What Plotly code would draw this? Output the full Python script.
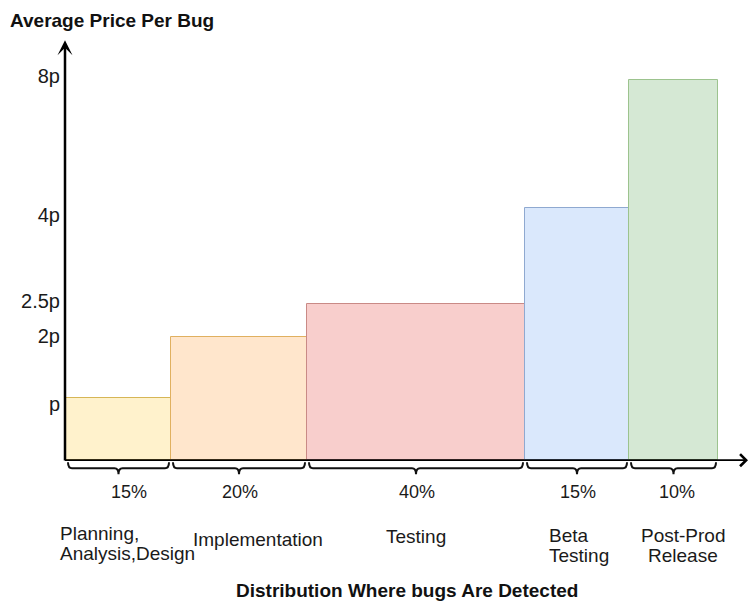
import plotly.graph_objects as go

# ---------------- data ----------------
phases = ["Planning,<br>Analysis,Design", "Implementation", "Testing", "Beta<br>Testing", "Post-Prod<br>Release"]
share_labels = ["15%", "20%", "40%", "15%", "10%"]
bar_widths = [105, 136, 218, 104, 89]          # drawn widths (diagram units)
bar_heights = [1.0, 1.98, 2.52, 4.06, 6.13]    # drawn heights (units of p, as drawn)
price_tick_pos = [0.9, 2.0, 2.56, 3.95, 6.19]
price_tick_text = ["p", "2p", "2.5p", "4p", "8p"]
fill_colors = ["#fff2cc", "#ffe6cc", "#f8cecc", "#dae8fc", "#d5e8d4"]
line_colors = ["#d6b656", "#e0b060", "#c98a86", "#8fa9d0", "#9cc38e"]
y_title = "Average Price Per Bug"
x_title = "Distribution Where bugs Are Detected"

# ---------------- geometry ----------------
L, T, W, H = 65, 40, 684, 445
PX_PER_P = 62.0
y_lo = -0.4
y_hi = y_lo + H / PX_PER_P

def pxx(xp):
    return (xp - L) / W

def pxy(yp):
    return (T + H - yp) / H

lefts = []
acc = 1
for w in bar_widths:
    lefts.append(acc)
    acc += w
centers = [l + w / 2 for l, w in zip(lefts, bar_widths)]

FONT = "Liberation Sans, Arial, sans-serif"

fig = go.Figure()
fig.add_trace(go.Bar(
    x=centers, y=bar_heights, width=bar_widths,
    marker=dict(color=fill_colors, line=dict(color=line_colors, width=1)),
    hoverinfo="skip", showlegend=False,
))

d = 1.0 / PX_PER_P

def brace(x0, x1):
    xc = (x0 + x1) / 2
    y1, y2, y3 = -2 * d, -8 * d, -14 * d
    r = 4
    return (f"M {x0},{y1} Q {x0},{y2} {x0 + r},{y2} L {xc - r},{y2} "
            f"Q {xc},{y2} {xc},{y3} Q {xc},{y2} {xc + r},{y2} "
            f"L {x1 - r},{y2} Q {x1},{y2} {x1},{y1}")

shapes = []
for l, w in zip(lefts, bar_widths):
    shapes.append(dict(type="path", xref="x", yref="y", path=brace(l + 2, l + w - 2),
                       line=dict(color="#111111", width=2), layer="above"))

annotations = []
# axes arrows
annotations.append(dict(x=0, y=(460 - 40) / PX_PER_P, ax=0, ay=-0.03, xref="x", yref="y",
                        axref="x", ayref="y", showarrow=True, arrowhead=3, arrowsize=1.0,
                        arrowwidth=2.5, arrowcolor="#000000", text=""))
annotations.append(dict(x=683, y=0, ax=-1.5, ay=0, xref="x", yref="y",
                        axref="x", ayref="y", showarrow=True, arrowhead=4, arrowsize=1.3,
                        arrowwidth=1.8, arrowcolor="#000000", text=""))

# percentage labels
pct_shift = [10, 1, 1, 1, 3]
for c, s, sh in zip(centers, share_labels, pct_shift):
    annotations.append(dict(x=c, y=pxy(492), xref="x", yref="paper", text=s, showarrow=False,
                            xshift=sh, font=dict(family=FONT, size=18, color="#1a1a1a"),
                            xanchor="center", yanchor="middle"))

# phase labels (each line placed separately for tight line spacing)
phase_pos = [(58, "left", 543), (258, "center", 539), (416, "center", 536),
             (547, "left", 545), (683, "center", 545)]
LINE_GAP = 20
for name, (xp, anc, yp) in zip(phases, phase_pos):
    lines = name.split("<br>")
    n = len(lines)
    for i, ln in enumerate(lines):
        yl = yp + (i - (n - 1) / 2) * LINE_GAP
        annotations.append(dict(x=pxx(xp), y=pxy(yl), xref="paper", yref="paper", text=ln,
                                showarrow=False, xanchor=anc, yanchor="middle", align=anc,
                                font=dict(family=FONT, size=19, color="#1a1a1a")))

# titles
annotations.append(dict(x=pxx(8), y=pxy(21), xref="paper", yref="paper", text="<b>" + y_title + "</b>",
                        showarrow=False, xanchor="left", yanchor="middle",
                        font=dict(family=FONT, size=19, color="#111111")))
annotations.append(dict(x=pxx(407), y=pxy(590), xref="paper", yref="paper", text="<b>" + x_title + "</b>",
                        showarrow=False, xanchor="center", yanchor="middle",
                        font=dict(family=FONT, size=19, color="#111111")))

fig.update_layout(
    width=749, height=601, autosize=False,
    margin=dict(l=L, r=749 - L - W, t=T, b=601 - T - H, pad=0),
    paper_bgcolor="white", plot_bgcolor="white",
    bargap=0,
    xaxis=dict(range=[0, W], showgrid=False, zeroline=False, showline=False,
               showticklabels=False, ticks="", fixedrange=True),
    yaxis=dict(range=[y_lo, y_hi], showgrid=False, zeroline=False, showline=False,
               tickvals=price_tick_pos, ticktext=price_tick_text, ticks="",
               ticklabelstandoff=4,
               tickfont=dict(family=FONT, size=20, color="#1a1a1a"), fixedrange=True),
    shapes=shapes, annotations=annotations,
)

fig.write_html("out.html")
